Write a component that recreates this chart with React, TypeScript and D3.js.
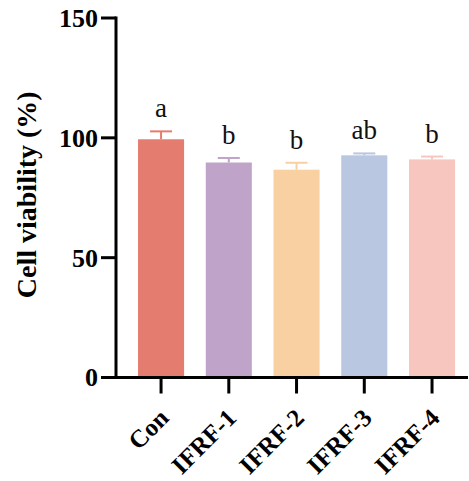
import { useEffect, useRef } from 'react'
import * as d3 from 'd3'

// Data
const groups = ['Con', 'IFRF-1', 'IFRF-2', 'IFRF-3', 'IFRF-4']
const means = [99.4, 89.7, 86.7, 92.7, 91.0]
const sds = [3.3, 1.9, 2.9, 0.8, 1.2]
const letters = ['a', 'b', 'b', 'ab', 'b']
const yTicks = [0, 50, 100, 150]
const colors = ['#E47D6F', '#BFA3C9', '#F9D0A2', '#B9C7E1', '#F7C6BF']

const W = 469
const H = 481
const FONT = '"Liberation Serif", "Times New Roman", serif'

export default function App() {
  const svgRef = useRef<SVGSVGElement>(null)

  useEffect(() => {
    if (!svgRef.current) return
    const svg = d3.select(svgRef.current)
    svg.selectAll('*').remove()

    const x0 = 116
    const y0 = 377.5

    const x = d3
      .scaleBand<string>()
      .domain(groups)
      .range([x0, 468])
      .paddingInner(0.32)
      .paddingOuter(0.258)
      .align(0.63)

    const y = d3.scaleLinear().domain([0, 150]).range([y0, 18])

    const g = svg.append('g')

    // Bars
    g.selectAll('rect.bar')
      .data(groups)
      .join('rect')
      .attr('class', 'bar')
      .attr('x', (d) => x(d)!)
      .attr('width', x.bandwidth())
      .attr('y', (_, i) => y(means[i]))
      .attr('height', (_, i) => y0 - y(means[i]))
      .attr('fill', (_, i) => colors[i])

    // Error bars (upper only)
    const cap = 11
    groups.forEach((d, i) => {
      const cx = x(d)! + x.bandwidth() / 2
      const top = y(means[i] + sds[i])
      g.append('line')
        .attr('x1', cx)
        .attr('x2', cx)
        .attr('y1', y(means[i]))
        .attr('y2', top)
        .attr('stroke', colors[i])
        .attr('stroke-width', 2)
      g.append('line')
        .attr('x1', cx - cap)
        .attr('x2', cx + cap)
        .attr('y1', top)
        .attr('y2', top)
        .attr('stroke', colors[i])
        .attr('stroke-width', 2)

      // significance letters
      g.append('text')
        .attr('x', cx)
        .attr('y', top - 14)
        .attr('text-anchor', 'middle')
        .attr('font-family', FONT)
        .attr('font-size', 27)
        .attr('fill', '#111')
        .text(letters[i])
    })

    // Y axis
    g.append('line')
      .attr('x1', x0)
      .attr('x2', x0)
      .attr('y1', y(150) - 1.5)
      .attr('y2', y0 + 1.5)
      .attr('stroke', '#000')
      .attr('stroke-width', 3)

    yTicks.forEach((t) => {
      g.append('line')
        .attr('x1', x0 - 15)
        .attr('x2', x0)
        .attr('y1', y(t))
        .attr('y2', y(t))
        .attr('stroke', '#000')
        .attr('stroke-width', 3)
      g.append('text')
        .attr('x', x0 - 18)
        .attr('y', y(t))
        .attr('dy', '0.34em')
        .attr('text-anchor', 'end')
        .attr('font-family', FONT)
        .attr('font-weight', 'bold')
        .attr('font-size', 26)
        .attr('fill', '#000')
        .text(t)
    })

    // X axis
    g.append('line')
      .attr('x1', x0 - 1.5)
      .attr('x2', 468)
      .attr('y1', y0)
      .attr('y2', y0)
      .attr('stroke', '#000')
      .attr('stroke-width', 3)

    groups.forEach((d) => {
      const cx = x(d)! + x.bandwidth() / 2
      g.append('line')
        .attr('x1', cx)
        .attr('x2', cx)
        .attr('y1', y0)
        .attr('y2', y0 + 16)
        .attr('stroke', '#000')
        .attr('stroke-width', 3)
      g.append('text')
        .attr('transform', `translate(${cx + 9},${y0 + 42}) rotate(-45)`)
        .attr('text-anchor', 'end')
        .attr('font-family', FONT)
        .attr('font-weight', 'bold')
        .attr('font-size', 25)
        .attr('fill', '#000')
        .text(d)
    })

    // Y axis title
    g.append('text')
      .attr('transform', `translate(36,${(y0 + y(150)) / 2 - 3}) rotate(-90)`)
      .attr('text-anchor', 'middle')
      .attr('font-family', FONT)
      .attr('font-weight', 'bold')
      .attr('font-size', 28)
      .attr('fill', '#000')
      .text('Cell viability (%)')
  }, [])

  return (
    <svg
      ref={svgRef}
      width={W}
      height={H}
      style={{ position: 'absolute', left: 0, top: 0, background: '#fff' }}
    />
  )
}
